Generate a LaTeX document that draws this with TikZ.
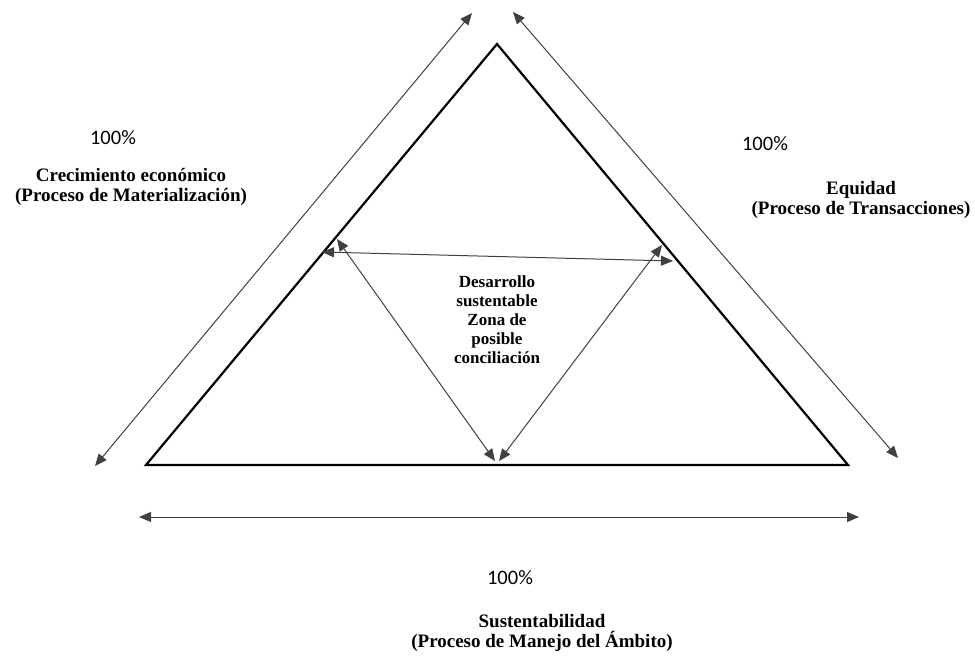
\documentclass[tikz,border=0pt]{standalone}
\usepackage{fontspec}
\setmainfont{Liberation Serif}
\newfontfamily\calib{Carlito}
\usetikzlibrary{arrows.meta}
\begin{document}
\begin{tikzpicture}[x=1pt,y=-1pt,
 tri/.style={line width=2.2pt, line join=miter},
 arr/.style={line width=1pt, draw=black!75, {Triangle[length=12pt,width=10pt]}-{Triangle[length=12pt,width=10pt]}},
 pct/.style={font=\calib\fontsize{20.5}{24}\selectfont, inner sep=0},
 lab/.style={font=\bfseries\fontsize{19}{20}\selectfont, align=center, inner sep=0}]
\useasboundingbox (0,0) rectangle (975,656);
% main triangle
\coordinate (A) at (497,44);
\coordinate (B) at (146,465);
\coordinate (C) at (848,465);
\draw[tri] (A) -- (B) -- (C) -- cycle;
% outer arrows
\coordinate (l1) at (95,466); \coordinate (l2) at (472,13);
\coordinate (r1) at (513,12); \coordinate (r2) at (898,458);
\coordinate (b1) at (139,517); \coordinate (b2) at (859,517);
\draw[arr] (l1) -- (l2);
\draw[arr] (r1) -- (r2);
\draw[arr] (b1) -- (b2);
% inner arrows
\coordinate (h1) at (322,252); \coordinate (h2) at (673,261);
\coordinate (i1) at (337,239); \coordinate (i2) at (662,245);
\coordinate (m1) at (495,461); \coordinate (m2) at (499,461);
\draw[arr] (h1) -- (h2);
\draw[arr] (i1) -- (m1);
\draw[arr] (i2) -- (m2);
% labels
\node[pct] (p1) at (113,138) {100\%};
\node[pct] (p2) at (765,144) {100\%};
\node[pct] (p3) at (510,578) {100\%};
\node[lab] (t1) at (131,187) {Crecimiento económico\\(Proceso de Materialización)};
\node[lab] (t2) at (861,200) {Equidad\\(Proceso de Transacciones)};
\node[lab] (t3) at (542,633) {Sustentabilidad\\(Proceso de Manejo del Ámbito)};
\node[lab, font=\bfseries\fontsize{17}{19}\selectfont] (t4) at (497,320) {Desarrollo\\sustentable\\Zona de\\posible\\conciliación};
\end{tikzpicture}
\end{document}
